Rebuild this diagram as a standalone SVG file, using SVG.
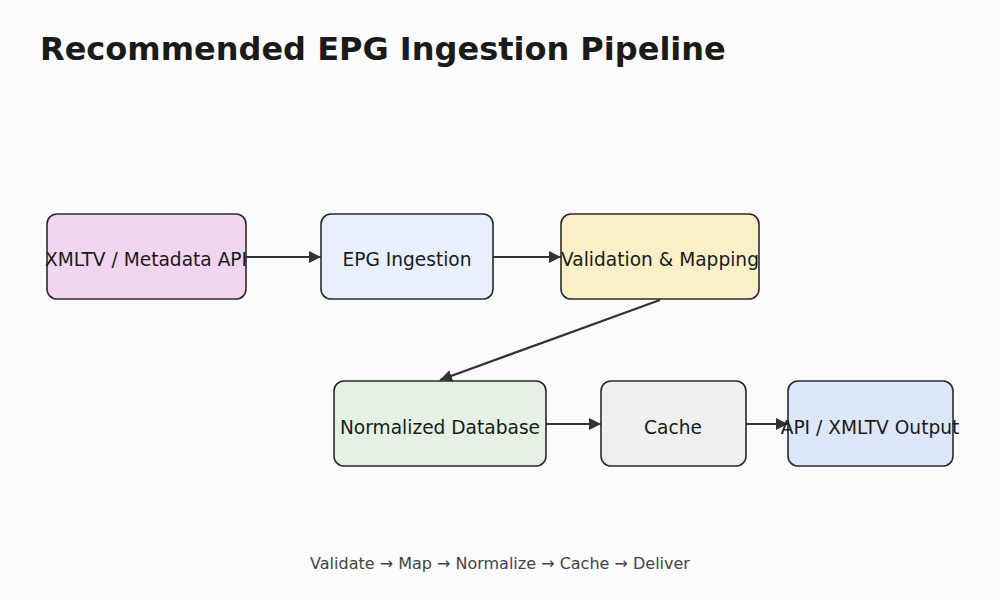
<svg xmlns="http://www.w3.org/2000/svg" width="1000" height="600" viewBox="0 0 1000 600">
<defs>
<style>
.node rect{stroke:#2b2b2b;stroke-width:1.6}
.node text{font-family:"DejaVu Sans",sans-serif;font-size:18.6px;fill:#1a1a1a;text-anchor:middle;dominant-baseline:central}
.edge{stroke:#333;stroke-width:2.2;fill:none;marker-end:url(#arr)}
</style>
<marker id="arr" viewBox="0 0 10 10" refX="10" refY="5" markerWidth="5.5" markerHeight="5.5" orient="auto" markerUnits="strokeWidth">
<path d="M0,0 L10,5 L0,10 z" fill="#333"/>
</marker>
</defs>
<rect width="1000" height="600" fill="#fbfbfb"/>
<text x="40" y="60" font-family="DejaVu Sans,sans-serif" font-weight="bold" font-size="32" fill="#1a1a1a">Recommended EPG Ingestion Pipeline</text>
<g id="connectors">
<line class="edge" x1="246" y1="257" x2="321" y2="257"/>
<line class="edge" x1="493" y1="257" x2="561" y2="257"/>
<line class="edge" x1="660" y1="300" x2="440" y2="380"/>
<line class="edge" x1="546" y1="424" x2="601" y2="424"/>
<line class="edge" x1="746" y1="424" x2="788" y2="424"/>
</g>
<g id="n1" class="node"><rect x="47" y="214" width="199" height="85" rx="10" fill="#f2d5f1"/><text x="146" y="259">XMLTV / Metadata API</text></g>
<g id="n2" class="node"><rect x="321" y="214" width="172" height="85" rx="10" fill="#e8f0fd"/><text x="407" y="259">EPG Ingestion</text></g>
<g id="n3" class="node"><rect x="561" y="214" width="198" height="85" rx="10" fill="#fdf0c9"/><text x="660" y="259">Validation &amp; Mapping</text></g>
<g id="n4" class="node"><rect x="334" y="381" width="212" height="85" rx="10" fill="#e5f2e3"/><text x="440" y="427">Normalized Database</text></g>
<g id="n5" class="node"><rect x="601" y="381" width="145" height="85" rx="10" fill="#efefef"/><text x="673" y="427">Cache</text></g>
<g id="n6" class="node"><rect x="788" y="381" width="165" height="85" rx="10" fill="#dce7fc"/><text x="870" y="427">API / XMLTV Output</text></g>
<text x="500" y="563" text-anchor="middle" dominant-baseline="central" font-family="DejaVu Sans,sans-serif" font-size="16" fill="#444">Validate → Map → Normalize → Cache → Deliver</text>
</svg>
